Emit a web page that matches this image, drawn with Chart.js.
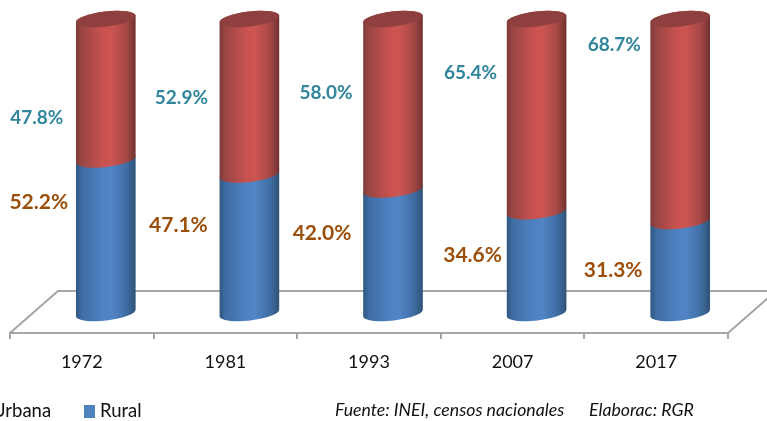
<!DOCTYPE html>
<html><head><meta charset="utf-8">
<style>html,body{margin:0;padding:0;background:#fff;overflow:hidden}canvas{display:block}</style>
<script src="https://cdn.jsdelivr.net/npm/chart.js@4"></script>
</head><body><canvas id="c" width="767" height="421"></canvas>
<script>
const categories = ['1972','1981','1993','2007','2017'];
const urbana = [47.8,52.9,58.0,65.4,68.7];
const rural = [52.2,47.1,42.0,34.6,31.3];
const seriesNames = ['Urbana','Rural'];
const sourceNote = 'Fuente: INEI, censos nacionales';
const authorNote = 'Elaborac: RGR';

const DX = 24, DY = -20, RY = 7.5, ROT = -0.115;
const FONT = 'Lato, "Noto Sans", sans-serif';
const RED = ['#7d3a38','#9a4644','#c8524f','#cc5552','#a34745','#6f3130'];
const BLUE = ['#2f5680','#3f6da3','#4f82c2','#5285c6','#3f6ca2','#2f5276'];
// hand-placed label nudges relative to each bar's slot
const NUDGE = {
  0:{x:[-45,-44,-43,-42,-42],y:[9,-19,-31,-62,-95]},
  1:{x:[-43,-47,-47,-40,-43],y:[22.5,30.5,23.5,23.7,29]}
};

function grad(ctx,l,r,cols){
  const g=ctx.createLinearGradient(l,0,r,0);
  [0,.1,.45,.6,.85,1].forEach((s,i)=>g.addColorStop(s,cols[i]));
  return g;
}
function cyl(ctx,el,cols,cap){
  const p=el.getProps(['x','y','base','width'],true);
  const cx=p.x+DX, r=p.width/2, ty=p.y+DY, by=p.base+DY;
  ctx.beginPath();
  ctx.ellipse(cx,by,r,RY,ROT,Math.PI,0,true);
  ctx.ellipse(cx,ty,r,RY,ROT,0,Math.PI,true);
  ctx.closePath();
  ctx.fillStyle=grad(ctx,cx-r,cx+r,cols);
  ctx.fill();
  if(cap){
    ctx.beginPath();
    ctx.ellipse(cx,ty,r,RY,ROT,0,Math.PI*2);
    ctx.fillStyle='#8f3f3e';
    ctx.fill();
  }
}
const scene={
  id:'scene',
  beforeDatasetsDraw(chart){
    const {ctx,chartArea:a}=chart, W=chart.width;
    const bx=2*DX, by=2*DY+(-2);
    ctx.save();
    ctx.strokeStyle='#a6a6a6';ctx.lineWidth=2;
    ctx.beginPath();
    ctx.moveTo(a.left,a.bottom);ctx.lineTo(a.left+bx,a.bottom+by);ctx.lineTo(W,a.bottom+by);
    ctx.moveTo(a.right,a.bottom);ctx.lineTo(a.right+bx,a.bottom+by);
    ctx.stroke();
    ctx.restore();
  },
  afterDatasetsDraw(chart){
    const {ctx}=chart;
    const urb=chart.getDatasetMeta(1).data, rur=chart.getDatasetMeta(0).data;
    ctx.save();
    rur.forEach(el=>cyl(ctx,el,BLUE,false));
    urb.forEach(el=>cyl(ctx,el,RED,true));
    ctx.textBaseline='middle';ctx.textAlign='center';
    ctx.font='bold 19px '+FONT;
    urb.forEach((el,i)=>{
      const mid=(el.y+el.base)/2;
      ctx.fillStyle='#31859c';
      ctx.fillText(urbana[i].toFixed(1)+'%',el.x+NUDGE[0].x[i],mid+NUDGE[0].y[i]);
    });
    ctx.fillStyle='#9c4f0b';
    ctx.font='bold 21px '+FONT;
    rur.forEach((el,i)=>{
      ctx.fillText(rural[i].toFixed(1)+'%',el.x+NUDGE[1].x[i],el.y+NUDGE[1].y[i]);
    });
    // legend
    ctx.textAlign='left';
    ctx.fillStyle='#111';ctx.font='18.5px '+FONT;
    ctx.fillText(seriesNames[0],-8,411);
    ctx.fillStyle='#4f81bd';ctx.fillRect(84,405,11,13);
    ctx.fillStyle='#111';ctx.fillText(seriesNames[1],100,411);
    // source notes
    ctx.font='italic 17.7px '+FONT;
    ctx.fillText(sourceNote,335,410);
    ctx.fillText(authorNote,589,410);
    ctx.restore();
  }
};
new Chart(document.getElementById('c'),{
  type:'bar',
  data:{labels:categories,datasets:[
    {label:seriesNames[1],data:rural,backgroundColor:'transparent',borderWidth:0},
    {label:seriesNames[0],data:urbana,backgroundColor:'transparent',borderWidth:0}
  ]},
  options:{
    responsive:false,animation:false,events:[],
    layout:{padding:{left:10,right:39,top:39,bottom:48}},
    datasets:{bar:{barPercentage:1,categoryPercentage:0.418}},
    plugins:{legend:{display:false},tooltip:{enabled:false},title:{display:false}},
    scales:{
      x:{stacked:true,
        afterFit(s){s.height=40;},
        grid:{offset:true,drawOnChartArea:false,drawTicks:true,tickLength:6,color:'#a6a6a6',lineWidth:2},
        border:{color:'#a6a6a6',width:2},
        ticks:{color:'#111',font:{family:FONT,size:18},padding:12,maxRotation:0}
      },
      y:{stacked:true,min:0,max:100,display:false}
    }
  },
  plugins:[scene]
});
</script></body></html>
